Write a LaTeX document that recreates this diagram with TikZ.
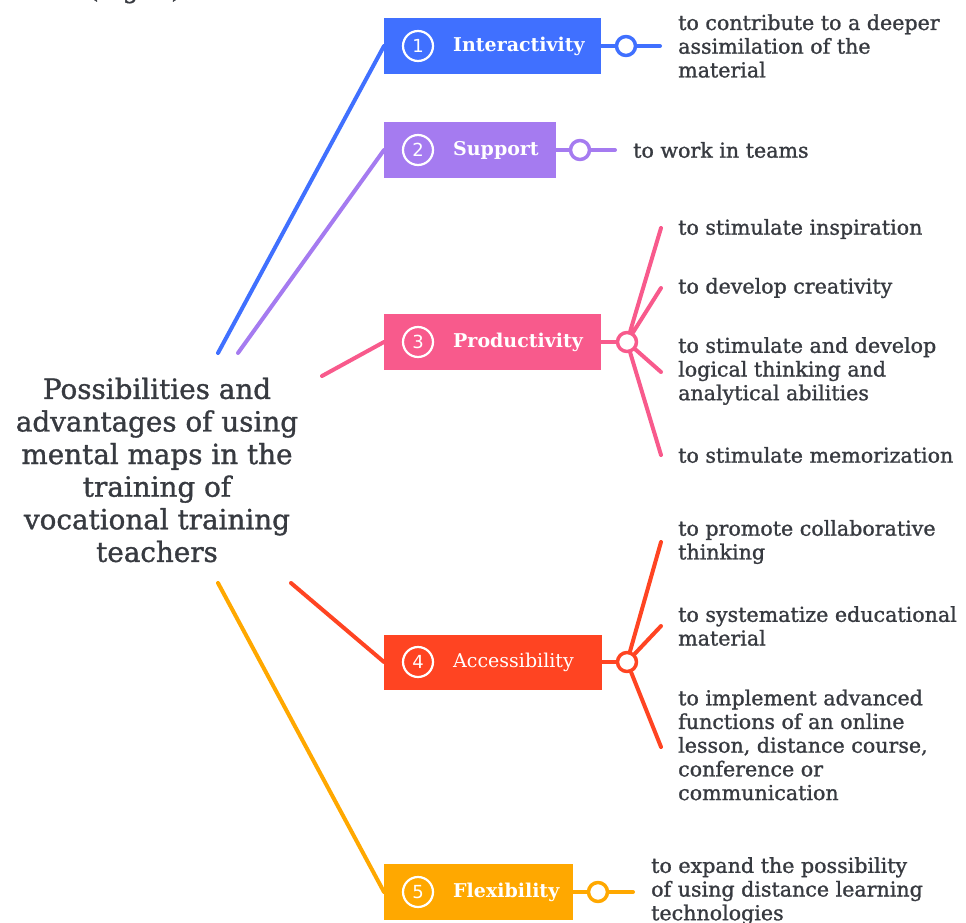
\documentclass[tikz,border=0pt]{standalone}
\usepackage{fontspec}
\setmainfont{DejaVu Serif}
\setsansfont{DejaVu Sans}
\newfontfamily\inkfont{DejaVu Serif}[FakeBold=1.2]
\definecolor{cblue}{HTML}{4070FF}
\definecolor{cpurple}{HTML}{A57BF0}
\definecolor{cpink}{HTML}{F85A8C}
\definecolor{cred}{HTML}{FF4422}
\definecolor{corange}{HTML}{FFA800}
\definecolor{ink}{HTML}{373A40}
\begin{document}
\begin{tikzpicture}[line cap=round,line join=round,x=1pt,y=-1pt,
  box/.style={rectangle,minimum height=56,anchor=west,inner sep=0},
  num/.style={circle,draw=white,line width=2.2,minimum size=30,inner sep=0,text=white,font=\sffamily\fontsize{18}{18}\selectfont},
  lbl/.style={anchor=west,text=white,inner sep=0,font=\bfseries\fontsize{19}{22}\selectfont},
  knob/.style={circle,draw=#1,fill=white,line width=3.5,minimum size=19,inner sep=0},
  leaf/.style={anchor=west,align=left,text=ink,inner sep=0,font=\inkfont\fontsize{20.6}{23.7}\selectfont},
  link/.style={line width=4}]
\useasboundingbox (0,0) rectangle (966,923);
\begin{scope}
\clip (0,0) rectangle (966,923);
\node[anchor=base,text=ink,font=\inkfont\fontsize{24}{24}\selectfont] (fig) at (135,-2) {(Fig. 1)};
\end{scope}
\node[align=center,text=ink,inner sep=0,font=\inkfont\fontsize{27.8}{32.6}\selectfont] (topic) at (157,470) {Possibilities and\\advantages of using\\mental maps in the\\training of\\vocational training\\teachers};
\coordinate (s1) at (218,353);
\coordinate (s2) at (238,353);
\coordinate (s3) at (322,376);
\coordinate (s4) at (291,583);
\coordinate (s5) at (218,583);
\node[box,fill=cblue,minimum width=217] (b1) at (384,46) {};
\node[box,fill=cpurple,minimum width=172] (b2) at (384,150) {};
\node[box,fill=cpink,minimum width=217] (b3) at (384,342) {};
\node[box,fill=cred,minimum width=218,minimum height=55] (b4) at (384,662) {};
\node[box,fill=corange,minimum width=189] (b5) at (384,892) {};
\draw[link,cblue] (s1) -- (b1.west);
\draw[link,cpurple] (s2) -- (b2.west);
\draw[link,cpink] (s3) -- (b3.west);
\draw[link,cred] (s4) -- (b4.west);
\draw[link,corange] (s5) -- (b5.west);
\node[num] (n1) at (418,46) {1};
\node[num] (n2) at (418,150) {2};
\node[num] (n3) at (418,342) {3};
\node[num] (n4) at (418,662) {4};
\node[num] (n5) at (418,892) {5};
\node[lbl] (l1) at (453,46) {Interactivity};
\node[lbl] (l2) at (453,150) {Support};
\node[lbl] (l3) at (453,342) {Productivity};
\node[lbl,font=\fontsize{19}{22}\selectfont] (l4) at (453,662) {Accessibility};
\node[lbl] (l5) at (453,892) {Flexibility};
\node[knob=cblue] (c1) at (626,46) {};
\node[knob=cpurple] (c2) at (580,150) {};
\node[knob=cpink] (c3) at (627,342) {};
\node[knob=cred] (c4) at (627,662) {};
\node[knob=corange] (c5) at (598,892) {};
\coordinate (e1) at (660,46);
\coordinate (e2) at (615,150);
\coordinate (e3a) at (661,228);
\coordinate (e3b) at (661,288);
\coordinate (e3c) at (661,372);
\coordinate (e3d) at (661,455);
\coordinate (e4a) at (661,542);
\coordinate (e4b) at (661,626);
\coordinate (e4c) at (661,747);
\coordinate (e5) at (633,892);
\draw[link,cblue] (b1.east) -- (c1) -- (e1);
\draw[link,cpurple] (b2.east) -- (c2) -- (e2);
\draw[link,cpink] (b3.east) -- (c3);
\draw[link,cpink] (c3) -- (e3a) (c3) -- (e3b) (c3) -- (e3c) (c3) -- (e3d);
\draw[link,cred] (b4.east) -- (c4);
\draw[link,cred] (c4) -- (e4a) (c4) -- (e4b) (c4) -- (e4c);
\draw[link,corange] (b5.east) -- (c5) -- (e5);
\node[leaf] (t1) at (678,46) {to contribute to a deeper\\assimilation of the\\material};
\node[leaf] (t2) at (633,150) {to work in teams};
\node[leaf] (t3a) at (678,229) {to stimulate inspiration};
\node[leaf] (t3b) at (678,288) {to develop creativity};
\node[leaf] (t3c) at (678,371) {to stimulate and develop\\logical thinking and\\analytical abilities};
\node[leaf] (t3d) at (678,455) {to stimulate memorization};
\node[leaf] (t4a) at (678,542) {to promote collaborative\\thinking};
\node[leaf] (t4b) at (678,626) {to systematize educational\\material};
\node[leaf] (t4c) at (678,745) {to implement advanced\\functions of an online\\lesson, distance course,\\conference or\\communication};
\node[leaf] (t5) at (651,891) {to expand the possibility\\of using distance learning\\technologies};
\end{tikzpicture}
\end{document}
